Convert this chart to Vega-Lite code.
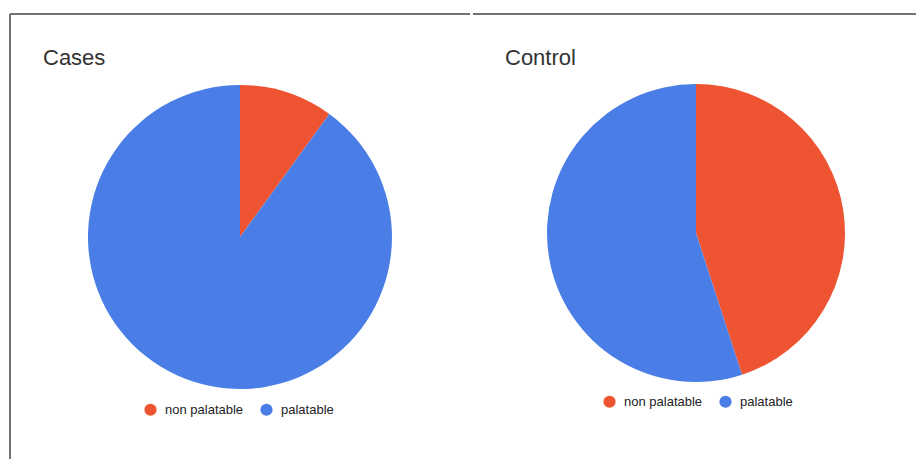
{
  "$schema": "https://vega.github.io/schema/vega-lite/v6.json",
  "padding": {"left": 9, "top": 13, "right": 0, "bottom": 0},
  "background": "white",
  "datasets": {
    "pie": [
      {"group": "Cases", "category": "non palatable", "value": 10},
      {"group": "Cases", "category": "palatable", "value": 90},
      {"group": "Control", "category": "non palatable", "value": 45},
      {"group": "Control", "category": "palatable", "value": 55}
    ],
    "frame": [{"edge": "border"}]
  },
  "spacing": 1,
  "hconcat": [
    {
      "width": 460,
      "height": 446,
      "title": {"text": "Cases", "anchor": "start", "frame": "group", "dx": 33, "offset": -74, "baseline": "alphabetic"},
      "layer": [
        {
          "data": {"name": "frame"},
          "mark": {"type": "rule", "color": "#444", "strokeWidth": 1.5},
          "encoding": {"y": {"value": 0}}
        },
        {
          "data": {"name": "frame"},
          "mark": {"type": "rule", "color": "#444", "strokeWidth": 1.5},
          "encoding": {"x": {"value": 0}}
        },
        {
          "data": {"name": "pie"},
          "transform": [{"filter": "datum.group === 'Cases'"}],
          "mark": {"type": "arc", "outerRadius": 152},
          "encoding": {
            "theta": {"field": "value", "type": "quantitative", "stack": true},
            "order": {"field": "category", "sort": "ascending"},
            "color": {
              "field": "category",
              "type": "nominal",
              "scale": {"domain": ["non palatable", "palatable"], "range": ["#EE5432", "#4A7EE6"]},
              "legend": {"orient": "none", "legendX": 134, "legendY": 389, "direction": "horizontal", "title": null}
            }
          }
        }
      ]
    },
    {
      "width": 446,
      "height": 438,
      "title": {"text": "Control", "anchor": "start", "frame": "group", "dx": 32, "offset": -74, "baseline": "alphabetic"},
      "layer": [
        {
          "data": {"name": "frame"},
          "mark": {"type": "rule", "color": "#444", "strokeWidth": 1.5},
          "encoding": {"y": {"value": 0}}
        },
        {
          "data": {"name": "pie"},
          "transform": [{"filter": "datum.group === 'Control'"}],
          "mark": {"type": "arc", "outerRadius": 149},
          "encoding": {
            "theta": {"field": "value", "type": "quantitative", "stack": true},
            "order": {"field": "category", "sort": "ascending"},
            "color": {
              "field": "category",
              "type": "nominal",
              "scale": {"domain": ["non palatable", "palatable"], "range": ["#EE5432", "#4A7EE6"]},
              "legend": {"orient": "none", "legendX": 130, "legendY": 381, "direction": "horizontal", "title": null}
            }
          }
        }
      ]
    }
  ],
  "resolve": {"scale": {"color": "independent"}, "legend": {"color": "independent"}},
  "config": {
    "view": {"stroke": null},
    "title": {"font": "Liberation Sans", "fontSize": 22, "fontWeight": "normal", "color": "#333"},
    "legend": {
      "labelFont": "Liberation Sans",
      "labelFontSize": 13,
      "labelColor": "#222",
      "symbolType": "circle",
      "symbolSize": 150,
      "symbolStrokeWidth": 0,
      "symbolOpacity": 1,
      "labelOffset": 8,
      "columnPadding": 16,
      "padding": 0
    }
  }
}
